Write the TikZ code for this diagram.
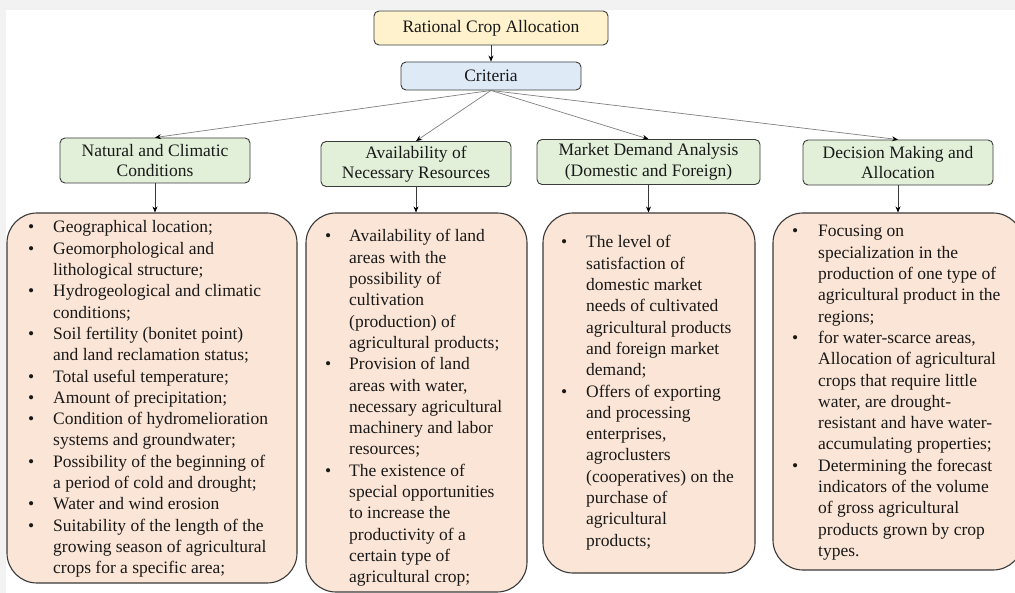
\documentclass[tikz,border=0pt]{standalone}
\usepackage{fontspec}
\setmainfont{Liberation Serif}
\usetikzlibrary{positioning, arrows.meta}

\definecolor{headfill}{HTML}{FFF2CC}
\definecolor{critfill}{HTML}{DEEBF7}
\definecolor{groupfill}{HTML}{E2F0D9}
\definecolor{listfill}{HTML}{FBE5D6}
\definecolor{edge}{HTML}{3A3A3A}

\newcommand{\bl}{\textbullet}

\begin{document}
\begin{tikzpicture}[
    x=1pt, y=-1pt, >=Stealth,
    every node/.style={font=\rmfamily\fontsize{17.5}{20.5}\selectfont, text=black!90},
    box/.style={draw=edge, line width=0.9pt, rounded corners=5pt, align=center, inner sep=0pt},
    headbox/.style={box, fill=headfill, minimum width=234, minimum height=34},
    critbox/.style={box, fill=critfill, minimum width=180, minimum height=28},
    groupbox/.style={box, fill=groupfill, minimum height=45},
    listbox/.style={draw=edge, line width=1.1pt, rounded corners=30pt, fill=listfill, inner sep=0pt},
    listtext/.style={anchor=base west, inner sep=0pt, font=\rmfamily\fontsize{17.5}{21.3}\selectfont},
    link/.style={draw=black!50, line width=0.7pt, -{Stealth[length=6pt, width=5pt, color=black]}},
    down/.style={draw=edge, line width=0.7pt, -{Stealth[length=6pt, width=5pt, color=black]}}
]
\useasboundingbox (0,0) rectangle (1015,593);
\fill[black!5] (0,0) rectangle (1015,593);
\fill[white] (6,10) rectangle (1015,593);

% top of the tree
\node[headbox] (alloc) at (491,28) {Rational Crop Allocation};
\node[critbox] (crit) at (491,76) {Criteria};

% criteria groups
\node[groupbox, minimum width=190] (nat) at (155,160.5) {Natural and Climatic\\Conditions};
\node[groupbox, minimum width=190] (res) at (416,164) {Availability of\\Necessary Resources};
\node[groupbox, minimum width=223] (mkt) at (648.5,162) {Market Demand Analysis\\(Domestic and Foreign)};
\node[groupbox, minimum width=190] (dec) at (898,162.5) {Decision Making and\\Allocation};

% lists
\node[listbox, minimum width=290, minimum height=370] (natL) at (152,398) {};
\node[listbox, minimum width=221, minimum height=379] (resL) at (416.5,402.5) {};
\node[listbox, minimum width=212, minimum height=360] (mktL) at (649,393) {};
\node[listbox, minimum width=250, minimum height=357] (decL) at (898,391.5) {};

\node[listtext] (natT) at (28,233) {\begin{tabular}[t]{@{}p{25pt}@{}l@{}}
\bl & Geographical location;\\
\bl & Geomorphological and\\
    & lithological structure;\\
\bl & Hydrogeological and climatic\\
    & conditions;\\
\bl & Soil fertility (bonitet point)\\
    & and land reclamation status;\\
\bl & Total useful temperature;\\
\bl & Amount of precipitation;\\
\bl & Condition of hydromelioration\\
    & systems and groundwater;\\
\bl & Possibility of the beginning of\\
    & a period of cold and drought;\\
\bl & Water and wind erosion\\
\bl & Suitability of the length of the\\
    & growing season of agricultural\\
    & crops for a specific area;
\end{tabular}};

\node[listtext] (resT) at (325,242) {\begin{tabular}[t]{@{}p{24pt}@{}l@{}}
\bl & Availability of land\\
    & areas with the\\
    & possibility of\\
    & cultivation\\
    & (production) of\\
    & agricultural products;\\
\bl & Provision of land\\
    & areas with water,\\
    & necessary agricultural\\
    & machinery and labor\\
    & resources;\\
\bl & The existence of\\
    & special opportunities\\
    & to increase the\\
    & productivity of a\\
    & certain type of\\
    & agricultural crop;
\end{tabular}};

\node[listtext] (mktT) at (561,248) {\begin{tabular}[t]{@{}p{25pt}@{}l@{}}
\bl & The level of\\
    & satisfaction of\\
    & domestic market\\
    & needs of cultivated\\
    & agricultural products\\
    & and foreign market\\
    & demand;\\
\bl & Offers of exporting\\
    & and processing\\
    & enterprises,\\
    & agroclusters\\
    & (cooperatives) on the\\
    & purchase of\\
    & agricultural\\
    & products;
\end{tabular}};

\node[listtext] (decT) at (792,237) {\begin{tabular}[t]{@{}p{26pt}@{}l@{}}
\bl & Focusing on\\
    & specialization in the\\
    & production of one type of\\
    & agricultural product in the\\
    & regions;\\
\bl & for water-scarce areas,\\
    & Allocation of agricultural\\
    & crops that require little\\
    & water, are drought-\\
    & resistant and have water-\\
    & accumulating properties;\\
\bl & Determining the forecast\\
    & indicators of the volume\\
    & of gross agricultural\\
    & products grown by crop\\
    & types.
\end{tabular}};

% connectors
\draw[down] (alloc) -- (crit);
\foreach \g in {nat, res, mkt, dec} {
  \draw[link] (crit.south) -- (\g.north);
}
\draw[down] (nat) -- (nat |- natL.north);
\draw[down] (res) -- (res |- resL.north);
\draw[down] (mkt) -- (mkt |- mktL.north);
\draw[down] (dec) -- (dec |- decL.north);

\end{tikzpicture}
\end{document}
